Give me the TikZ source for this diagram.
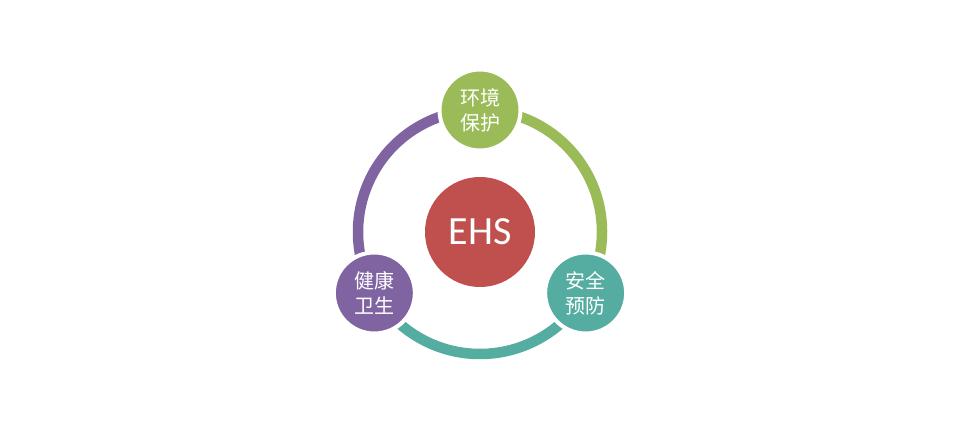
\documentclass[tikz,border=0pt]{standalone}
\usepackage{fontspec}
\setmainfont{Carlito}
\newfontfamily\cjk{Noto Sans CJK SC}
\definecolor{ehsred}{HTML}{C0504D}
\definecolor{ehsgreen}{HTML}{9BBB59}
\definecolor{ehsteal}{HTML}{55ADA1}
\definecolor{ehspurple}{HTML}{8064A2}
\pgfdeclarelayer{background}
\pgfsetlayers{background,main}
\tikzset{
  sat/.style={circle, fill=#1, draw=white, line width=4pt, minimum size=81pt, inner sep=0pt,
    text=white, align=center, font=\cjk\fontsize{20}{25}\selectfont},
  hub/.style={circle, fill=ehsred, minimum size=110pt, inner sep=0pt, text=white,
    font=\fontsize{40}{42}\selectfont},
  ringseg/.style={draw=#1, line width=10.5pt}
}
\begin{document}
\begin{tikzpicture}[x=1pt,y=1pt]
\useasboundingbox (0,0) rectangle (960,430);
\coordinate (c) at (480,198);
\node[hub] (ehs) at (c) {EHS};
\node[sat=ehsgreen] (env) at ([shift={(90:122)}]c) {环境\\保护};
\node[sat=ehsteal] (safe) at ([shift={(-30:122)}]c) {安全\\预防};
\node[sat=ehspurple] (health) at ([shift={(210:122)}]c) {健康\\卫生};
\begin{pgfonlayer}{background}
\fill[white] (0,0) rectangle (960,430);
\draw[ringseg=ehsgreen] (env.center) arc[start angle=90, end angle=-30, radius=122];
\draw[ringseg=ehsteal] (safe.center) arc[start angle=-30, end angle=-150, radius=122];
\draw[ringseg=ehspurple] (health.center) arc[start angle=210, end angle=90, radius=122];
\end{pgfonlayer}
\end{tikzpicture}
\end{document}
